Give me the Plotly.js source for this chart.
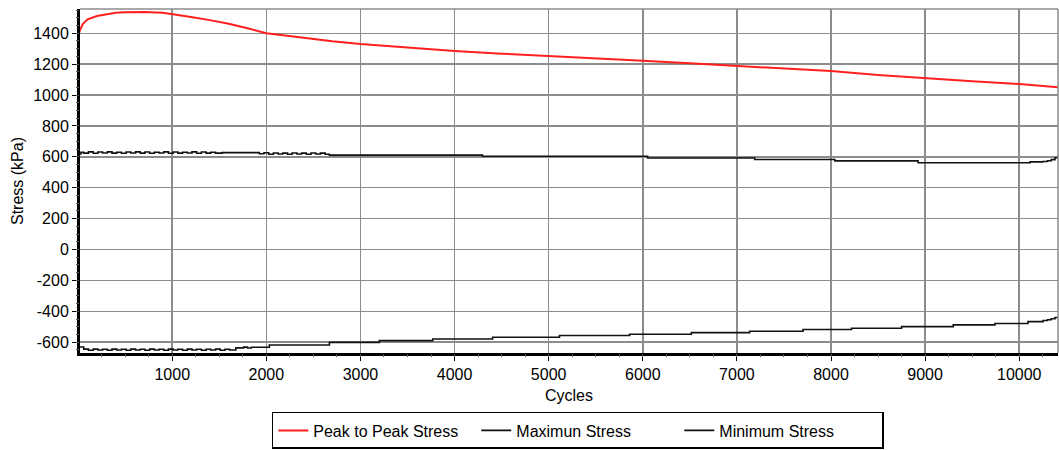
<!DOCTYPE html>
<html>
<head>
<meta charset="utf-8">
<script src="https://cdn.plot.ly/plotly-3.0.1.min.js"></script>
<style>html,body{margin:0;padding:0;background:#fff;}#chart{width:1059px;height:450px;}</style>
</head>
<body>
<div id="chart"></div>
<script>
// ---- data ----
const peakCycles = [0, 20, 50, 100, 200, 300, 400, 500, 700, 900, 1000, 1200, 1400, 1600, 1800, 1925, 2000, 2200, 2500, 2700, 3000, 3500, 4000, 4500, 5000, 5500, 6000, 6500, 7000, 7500, 8000, 8500, 9000, 9500, 10000, 10200, 10412];
const peakStress = [1380, 1420, 1460, 1490, 1512, 1524, 1532, 1536, 1538, 1532, 1524, 1505, 1485, 1462, 1432, 1410, 1400, 1385, 1362, 1348, 1330, 1308, 1285, 1268, 1254, 1238, 1222, 1205, 1188, 1170, 1155, 1130, 1108, 1090, 1071, 1063, 1050];

const maxCycles = [0, 30,
  60, 110, 160, 210, 260, 310, 360, 410, 460, 510, 560, 610, 660, 710, 760, 810, 860, 910, 960, 1010, 1060, 1110, 1160, 1210, 1260, 1310, 1360, 1410, 1460,
  1530,
  1925, 1975, 2025, 2075, 2125, 2175, 2225, 2275, 2325, 2375, 2425, 2475, 2525, 2575, 2625,
  2670, 4297, 6051, 7190, 8041, 8925, 10116, 10250, 10300, 10340, 10380, 10412];
const maxStress = [618, 629,
  624, 632, 623, 631, 625, 632, 624, 630, 623, 631, 625, 632, 624, 631, 623, 630, 625, 632, 623, 631, 624, 630, 625, 632, 623, 631, 624, 630, 624,
  627,
  620, 626, 617, 625, 618, 624, 617, 625, 618, 624, 617, 625, 618, 624, 617,
  611, 604, 592, 583, 574, 562, 567, 570, 575, 582, 594, 608];

const minCycles = [0,
  60, 110, 160, 210, 260, 310, 360, 410, 460, 510, 560, 610, 660, 710, 760, 810, 860, 910, 960, 1010, 1060, 1110, 1160, 1210, 1260, 1310, 1360, 1410, 1460, 1510, 1560, 1610,
  1676, 1760, 1800, 1840,
  2032, 2670, 3201, 3768, 4404, 5115, 5860, 6516, 7136, 7703, 8218, 8750, 9299, 9742, 10093, 10253, 10300, 10340, 10380, 10412];
const minStress = [-631,
  -645, -652, -645, -651, -646, -652, -645, -651, -646, -652, -645, -651, -646, -652, -645, -651, -646, -652, -645, -651, -646, -652, -645, -651, -646, -652, -646, -651, -645, -652, -646, -651,
  -637, -632, -638, -633,
  -618, -601, -590, -579, -568, -557, -549, -538, -529, -518, -510, -499, -488, -479, -467, -460, -455, -448, -440, -432];

const xRange = [20, 10412];
const yRange = [-670, 1557];
const xTickStep = 1000, xMinorStep = 250;
const yMinorStep = 50;
const yTickVals = [-600, -400, -200, 0, 200, 400, 600, 800, 1000, 1200, 1400];
const yTickText = ['-600', '-400', '-200', '0', '200', '400', '600', '800', '1000', '1200', '1400'];
const seriesNames = ['Peak to Peak Stress', 'Maximun Stress', 'Minimum Stress'];

const font = {family: 'Liberation Sans, Arial, sans-serif', size: 16, color: '#000'};

const traces = [
  {x: peakCycles, y: peakStress, name: seriesNames[0], mode: 'lines', line: {color: '#ff1f1f', width: 2}},
  {x: maxCycles, y: maxStress, name: seriesNames[1], mode: 'lines', line: {color: '#111', width: 1.6, shape: 'hv'}},
  {x: minCycles, y: minStress, name: seriesNames[2], mode: 'lines', line: {color: '#111', width: 1.6, shape: 'hv'}},
  // empty helper trace so the minor-tick overlay axes are created
  {x: [], y: [], xaxis: 'x2', yaxis: 'y2', showlegend: false, hoverinfo: 'skip', mode: 'lines'}
];

const layout = {
  width: 1059, height: 450,
  margin: {l: 80, r: 1, t: 9, b: 97},
  paper_bgcolor: '#fff', plot_bgcolor: '#fff',
  font: font,
  showlegend: true,
  legend: {
    orientation: 'h', x: 0.509, xanchor: 'center', y: -0.279, yanchor: 'bottom',
    bordercolor: '#000', borderwidth: 1.5, font: font,
    entrywidth: 158, entrywidthmode: 'pixels', traceorder: 'normal',
    tracegroupgap: 0, itemwidth: 30
  },
  xaxis: {
    range: xRange, tickmode: 'linear', tick0: 0, dtick: xTickStep, tickformat: 'd',
    ticks: 'outside', ticklen: 5, tickcolor: '#000',
    showgrid: true, gridcolor: '#8c8c8c', gridwidth: 1.5,
    showline: true, linecolor: '#000', linewidth: 3, zeroline: false,
    title: {text: 'Cycles', font: font, standoff: 8},
    tickfont: font
  },
  yaxis: {
    range: yRange, tickmode: 'array', tickvals: yTickVals, ticktext: yTickText,
    ticks: 'outside', ticklen: 5, tickcolor: '#000',
    showgrid: true, gridcolor: '#8c8c8c', gridwidth: 1.5,
    showline: true, linecolor: '#000', linewidth: 3, zeroline: false,
    title: {text: 'Stress (kPa)', font: font, standoff: 6},
    tickfont: font
  },
  xaxis2: {
    overlaying: 'x', anchor: 'y', side: 'bottom', range: xRange, tickmode: 'linear', tick0: 0, dtick: xMinorStep,
    ticks: 'outside', ticklen: 3, tickcolor: '#555', showticklabels: false, showgrid: false, zeroline: false, showline: false
  },
  yaxis2: {
    overlaying: 'y', anchor: 'x', side: 'left', range: yRange, tickmode: 'linear', tick0: 0, dtick: yMinorStep,
    ticks: 'outside', ticklen: 3, tickcolor: '#555', showticklabels: false, showgrid: false, zeroline: false, showline: false
  },
  shapes: [
    {type: 'line', xref: 'paper', yref: 'paper', x0: 0, x1: 1, y0: 1, y1: 1, line: {color: '#8c8c8c', width: 1.5}},
    {type: 'line', xref: 'paper', yref: 'paper', x0: 1, x1: 1, y0: 0, y1: 1, line: {color: '#8c8c8c', width: 1.5}}
  ]
};

Plotly.newPlot('chart', traces, layout, {displayModeBar: false, staticPlot: true});
</script>
</body>
</html>
